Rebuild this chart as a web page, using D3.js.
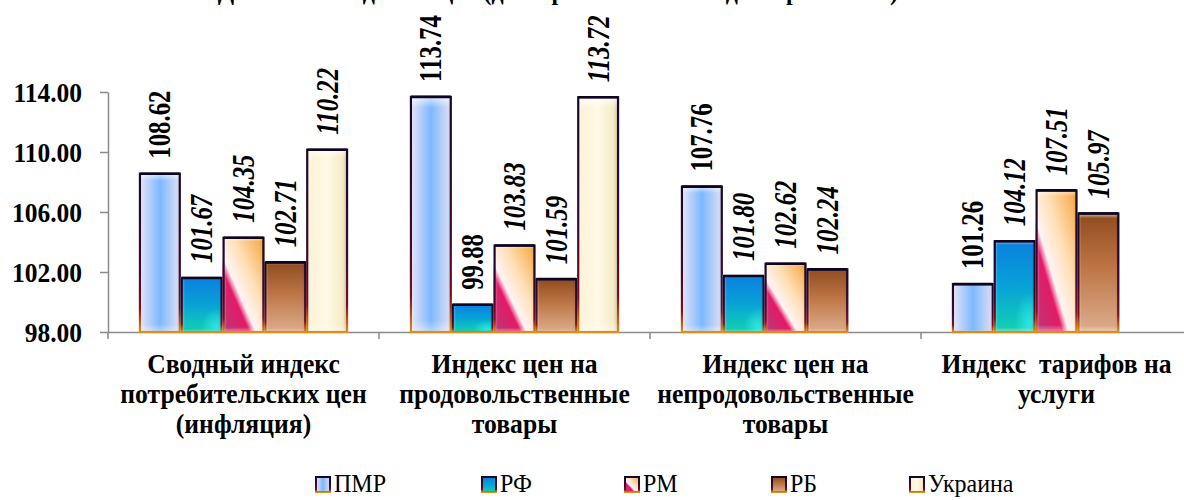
<!DOCTYPE html>
<html><head><meta charset="utf-8">
<script src="https://cdn.jsdelivr.net/npm/d3@7"></script>
<style>body{margin:0;background:#fff}svg{display:block}svg text{font-family:"Liberation Serif",serif}</style>
</head><body>
<svg id="c" width="1184" height="500"></svg>
<script>
// ---------- data ----------
const categories = ["Сводный индекс потребительских цен (инфляция)",
                    "Индекс цен на продовольственные товары",
                    "Индекс цен на непродовольственные товары",
                    "Индекс тарифов на услуги"];
const categoryLines = [["Сводный индекс", "потребительских цен", "(инфляция)"],
                       ["Индекс цен на", "продовольственные", "товары"],
                       ["Индекс цен на", "непродовольственные", "товары"],
                       ["Индекс  тарифов на", "услуги"]];
const series = ["ПМР", "РФ", "РМ", "РБ", "Украина"];
const valuesPMR     = [108.62, 113.74, 107.76, 101.26];
const valuesRF      = [101.67, 99.88, 101.80, 104.12];
const valuesRM      = [104.35, 103.83, 102.62, 107.51];
const valuesRB      = [102.71, 101.59, 102.24, 105.97];
const valuesUkraine = [110.22, 113.72, null, null];
const yTicks = [98, 102, 106, 110, 114];
const titleText = "Динамика индексов цен (декабрь 2012 г. в % к декабрю 2011 г.)";

const seriesValues = [valuesPMR, valuesRF, valuesRM, valuesRB, valuesUkraine];

// ---------- layout / style ----------
const plotLeft = 108, bandW = 271, plotTop = 92, plotBottom = 332;
const legendX = [315, 481, 624, 771, 909], legendY = 477;
const uprightLabel = (si, ci) => si === 0 || (si === 1 && ci === 1);
const serif = "Liberation Serif";

const svg = d3.select("#c");
const defs = svg.append("defs");

function lin(id, x1, y1, x2, y2, stops) {
  const g = defs.append("linearGradient").attr("id", id)
    .attr("x1", x1).attr("y1", y1).attr("x2", x2).attr("y2", y2);
  stops.forEach(s => g.append("stop").attr("offset", s[0]).attr("stop-color", s[1]).attr("stop-opacity", s[2] == null ? 1 : s[2]));
}
function rad(id, cx, cy, r, stops) {
  const g = defs.append("radialGradient").attr("id", id)
    .attr("cx", cx).attr("cy", cy).attr("r", r);
  stops.forEach(s => g.append("stop").attr("offset", s[0]).attr("stop-color", s[1]).attr("stop-opacity", s[2] == null ? 1 : s[2]));
}
lin("g0", 0, 0, 1, 0, [[0, "#ece6f6"], [0.5, "#7db8ff"], [1, "#e4e2f2"]]);
lin("g1", 0, 0, 0, 1, [[0, "#0a7fe0"], [0.5, "#08a2d6"], [1, "#12d2b0"]]);
lin("g2", 0, 1, 1, 0, [[0, "#b83a78"], [0.32, "#e41a68"], [0.40, "#fff4f4"], [0.62, "#ffe0b8"], [1, "#f4a238"]]);
lin("g3", 0, 0, 0, 1, [[0, "#8e4a1e"], [0.45, "#bd7444"], [1, "#dcae8e"]]);
lin("g4", 0, 0, 1, 0, [[0, "#fbf2d4"], [0.5, "#fff9e6"], [0.85, "#f6ecc8"], [1, "#d8ccaa"]]);
lin("shineV", 0, 0, 0, 1, [[0, "#fff", 0.75], [0.05, "#fff", 0], [0.95, "#fff", 0], [1, "#fff", 0.45]]);
lin("shineH", 0, 0, 1, 0, [[0, "#fff", 0.45], [0.1, "#fff", 0], [0.9, "#000", 0], [1, "#000", 0.12]]);
lin("edge", 0, 0, 0, 1, [[0, "#14082a"], [0.6, "#3a0a30"], [0.85, "#7a1020"], [1, "#e09018"]]);
rad("spot", 0.85, 0.92, 0.35, [[0, "#30e8e8", 0.9], [1, "#30e8e8", 0]]);

// ---------- scales ----------
const x0 = d3.scaleBand().domain(categories).range([plotLeft, plotLeft + bandW * categories.length]);
const x1 = d3.scaleBand().domain(series).range([0, x0.bandwidth()]).paddingOuter(0.74);
const y = d3.scaleLinear().domain([98, 114]).range([plotBottom, plotTop]);

// ---------- title (cut off at top, as in the reference) ----------
svg.append("g").attr("transform", `translate(898,0) scale(0.92,1)`)
  .append("text").attr("text-anchor", "end")
  .style("font-family", serif).style("font-weight", "bold").style("font-size", "26px")
  .text(titleText);

// ---------- axes ----------
const yAxis = svg.append("g").attr("transform", `translate(${plotLeft},0)`)
  .call(d3.axisLeft(y).tickValues(yTicks).tickFormat(d3.format(".2f")).tickSize(8).tickSizeOuter(0));
yAxis.selectAll("path,line").attr("stroke", "#8a8a8a").attr("stroke-width", 1.5);
yAxis.selectAll("text").attr("x", 0).attr("dy", "0.34em")
  .attr("transform", "translate(-26,0) scale(0.91,1)")
  .style("font-family", serif).style("font-weight", "bold").style("font-size", "28px").attr("fill", "#000");

const xAxis = svg.append("g").attr("transform", `translate(0,${plotBottom})`)
  .call(d3.axisBottom(x0).tickSize(0).tickFormat("").tickSizeOuter(0));
xAxis.select("path").attr("stroke", "#8a8a8a").attr("stroke-width", 1.5);
xAxis.selectAll(".tick").remove();
xAxis.selectAll("line.bound").data(categories).join("line").attr("class", "bound")
  .attr("x1", d => x0(d)).attr("x2", d => x0(d)).attr("y1", 0).attr("y2", 7)
  .attr("stroke", "#8a8a8a").attr("stroke-width", 1.5);

// category labels
const catG = svg.append("g");
categories.forEach((c, ci) => {
  const cx = x0(c) + x0.bandwidth() / 2;
  categoryLines[ci].forEach((line, li) => {
    catG.append("g").attr("transform", `translate(${cx},${373 + li * 30}) scale(0.95,1)`)
      .append("text").attr("text-anchor", "middle")
      .style("font-family", serif).style("font-weight", "bold").style("font-size", "27px")
      .style("white-space", "pre")
      .text(line);
  });
});

// ---------- bars ----------
const barsG = svg.append("g");
series.forEach((s, si) => {
  categories.forEach((c, ci) => {
    const v = seriesValues[si][ci];
    if (v == null) return;
    const bx = x0(c) + x1(s), bw = x1.bandwidth(), by = y(v), bh = y(98) - y(v);
    const g = barsG.append("g");
    g.append("rect").attr("x", bx).attr("y", by).attr("width", bw).attr("height", bh)
      .attr("fill", `url(#g${si})`);
    if (si === 1) g.append("rect").attr("x", bx).attr("y", by).attr("width", bw).attr("height", bh).attr("fill", "url(#spot)");
    g.append("rect").attr("x", bx).attr("y", by).attr("width", bw).attr("height", bh).attr("fill", "url(#shineV)");
    g.append("rect").attr("x", bx).attr("y", by).attr("width", bw).attr("height", bh).attr("fill", "url(#shineH)");
    g.append("rect").attr("x", bx + 1).attr("y", by + 1).attr("width", bw - 2).attr("height", bh - 1)
      .attr("fill", "none").attr("stroke", "url(#edge)").attr("stroke-width", 2.2);
    g.append("line").attr("x1", bx + 1).attr("x2", bx + bw - 1).attr("y1", by + 1).attr("y2", by + 1)
      .attr("stroke", "#0e0620").attr("stroke-width", 2.6);
    svg.append("g").attr("transform", `translate(${bx + bw / 2},${by - 14}) rotate(-90) scale(0.8,1)`)
      .append("text").attr("text-anchor", "start").attr("dy", "0.34em")
      .style("font-family", serif).style("font-weight", "bold")
      .style("font-style", uprightLabel(si, ci) ? "normal" : "italic")
      .style("font-size", "31px")
      .text(d3.format(".2f")(v));
  });
});

// ---------- legend ----------
const lg = svg.append("g");
series.forEach((s, si) => {
  lg.append("rect").attr("x", legendX[si] + 1).attr("y", legendY).attr("width", 14).attr("height", 15)
    .attr("fill", `url(#g${si})`).attr("stroke", "url(#edge)").attr("stroke-width", 2);
  lg.append("g").attr("transform", `translate(${legendX[si] + 19},${legendY + 15}) scale(0.96,1)`)
    .append("text").style("font-family", serif).style("font-size", "25px").text(s);
});
</script>
</body></html>
